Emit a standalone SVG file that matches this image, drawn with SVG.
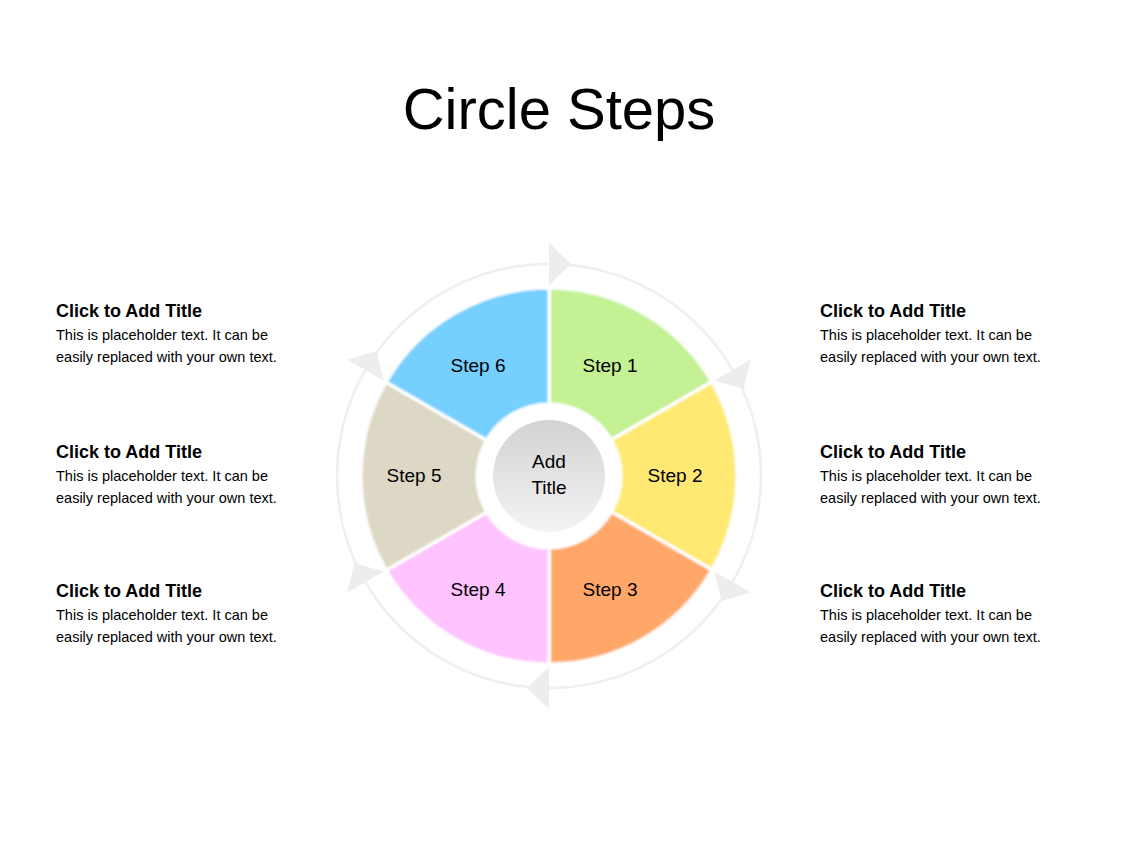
<svg xmlns="http://www.w3.org/2000/svg" width="1128" height="846" viewBox="0 0 1128 846">
<style>
.t{font-family:"Liberation Sans",Arial,sans-serif;fill:#000}
.seg{stroke:#fff;stroke-width:3;filter:url(#soft)}
.st{font-size:19px;text-anchor:middle}
.h{font-size:18px;font-weight:bold}
.b{font-size:14.5px}
.arr{fill:#ededed}
</style>
<defs>
<linearGradient id="cg" x1="0" y1="0" x2="0" y2="1"><stop offset="0" stop-color="#d2d2d2"/><stop offset="1" stop-color="#f4f4f4"/></linearGradient>
<filter id="soft" x="-5%" y="-5%" width="110%" height="110%"><feGaussianBlur stdDeviation="0.8"/></filter>
</defs>
<rect width="1128" height="846" fill="#fff"/>
<text class="t" x="559" y="129" font-size="58" text-anchor="middle">Circle Steps</text>
<g id="connectors">
<circle cx="549" cy="476" r="212" fill="none" stroke="#efefef" stroke-width="2.5"/>
<polygon class="arr" points="0,-21 0,21 22,0" transform="rotate(0 549 476) translate(549 264)"/>
<polygon class="arr" points="0,-21 0,21 22,0" transform="rotate(60 549 476) translate(549 264)"/>
<polygon class="arr" points="0,-21 0,21 22,0" transform="rotate(120 549 476) translate(549 264)"/>
<polygon class="arr" points="0,-21 0,21 22,0" transform="rotate(180 549 476) translate(549 264)"/>
<polygon class="arr" points="0,-21 0,21 22,0" transform="rotate(240 549 476) translate(549 264)"/>
<polygon class="arr" points="0,-21 0,21 22,0" transform="rotate(300 549 476) translate(549 264)"/>
</g>
<g id="step1"><path class="seg" fill="#c3f194" d="M549,288 A188,188 0 0 1 711.8,382 L611.4,440 A72,72 0 0 0 549,404 Z"/><text class="t st" x="610" y="372">Step 1</text></g>
<g id="step2"><path class="seg" fill="#ffe972" d="M711.8,382 A188,188 0 0 1 711.8,570 L611.4,512 A72,72 0 0 0 611.4,440 Z"/><text class="t st" x="675" y="482">Step 2</text></g>
<g id="step3"><path class="seg" fill="#ffa769" d="M711.8,570 A188,188 0 0 1 549,664 L549,548 A72,72 0 0 0 611.4,512 Z"/><text class="t st" x="610" y="596">Step 3</text></g>
<g id="step4"><path class="seg" fill="#ffc3ff" d="M549,664 A188,188 0 0 1 386.2,570 L486.6,512 A72,72 0 0 0 549,548 Z"/><text class="t st" x="478" y="596">Step 4</text></g>
<g id="step5"><path class="seg" fill="#ddd8c5" d="M386.2,570 A188,188 0 0 1 386.2,382 L486.6,440 A72,72 0 0 0 486.6,512 Z"/><text class="t st" x="414" y="482">Step 5</text></g>
<g id="step6"><path class="seg" fill="#74cfff" d="M386.2,382 A188,188 0 0 1 549,288 L549,404 A72,72 0 0 0 486.6,440 Z"/><text class="t st" x="478" y="372">Step 6</text></g>
<g id="center"><circle cx="549" cy="476" r="56" fill="url(#cg)"/><text class="t st" x="549" y="468" fill="#222">Add</text><text class="t st" x="549" y="494">Title</text></g>
<g id="l1"><text class="t h" x="56" y="317">Click to Add Title</text><text class="t b" x="56" y="340">This is placeholder  text. It can be</text><text class="t b" x="56" y="362">easily replaced  with your own text.</text></g>
<g id="l2"><text class="t h" x="56" y="458">Click to Add Title</text><text class="t b" x="56" y="481">This is placeholder  text. It can be</text><text class="t b" x="56" y="503">easily replaced  with your own text.</text></g>
<g id="l3"><text class="t h" x="56" y="597">Click to Add Title</text><text class="t b" x="56" y="620">This is placeholder  text. It can be</text><text class="t b" x="56" y="642">easily replaced  with your own text.</text></g>
<g id="r1"><text class="t h" x="820" y="317">Click to Add Title</text><text class="t b" x="820" y="340">This is placeholder  text. It can be</text><text class="t b" x="820" y="362">easily replaced  with your own text.</text></g>
<g id="r2"><text class="t h" x="820" y="458">Click to Add Title</text><text class="t b" x="820" y="481">This is placeholder  text. It can be</text><text class="t b" x="820" y="503">easily replaced  with your own text.</text></g>
<g id="r3"><text class="t h" x="820" y="597">Click to Add Title</text><text class="t b" x="820" y="620">This is placeholder  text. It can be</text><text class="t b" x="820" y="642">easily replaced  with your own text.</text></g>
</svg>
